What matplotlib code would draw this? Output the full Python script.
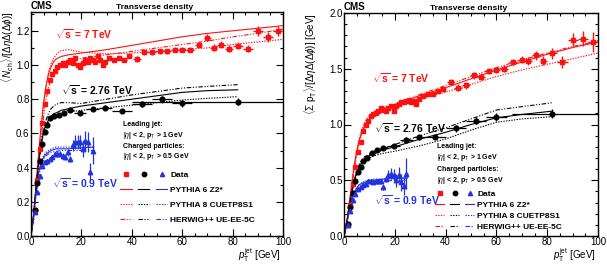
import matplotlib
matplotlib.use("Agg")
import matplotlib.pyplot as plt
from matplotlib.ticker import MultipleLocator
from matplotlib.lines import Line2D
from matplotlib.legend_handler import HandlerTuple

plt.rcParams['font.family'] = ['Liberation Sans', 'DejaVu Sans']
plt.rcParams['mathtext.fontset'] = 'custom'
plt.rcParams['mathtext.rm'] = 'Liberation Sans'
plt.rcParams['mathtext.it'] = 'Liberation Sans:italic'
plt.rcParams['mathtext.bf'] = 'Liberation Sans:bold'

RED = '#ff1010'
BLK = '#000000'
BLU = '#2233dd'

# ---------------- data: left panel (N_ch density) ----------------
n7_x = [1.5, 2.5, 3.5, 4.5, 5.5, 6.5, 7.5, 8.5, 9.5, 10.5, 11.5, 12.5, 13.5, 14.5, 15.5, 16.5, 17.5, 18.5, 19.5,
        20.5, 21.5, 22.5, 23.5, 24.5, 25.5, 26.5, 27.5, 28.5, 29.5, 31, 33, 35, 37, 39, 42, 45, 48, 51, 54, 57,
        60, 63, 66.5, 70, 72.5, 75.5, 78.5, 82, 86, 90, 94, 98]
n7_y = [0.15, 0.33, 0.51, 0.66, 0.77, 0.85, 0.91, 0.945, 0.965, 0.99, 1.0, 1.01, 1.0, 1.02, 1.03, 1.01, 1.04, 1.0, 0.99,
        1.01, 1.03, 1.02, 1.04, 1.03, 1.02, 1.05, 1.03, 1.0, 1.02, 1.04, 1.03, 1.04, 1.03, 1.05, 1.035, 1.075, 1.075, 1.08, 1.08, 1.09,
        1.09, 1.09, 1.118, 1.16, 1.10, 1.118, 1.095, 1.114, 1.095, 1.20, 1.163, 1.20]
n7_xe = [0.5] * 29 + [1.0] * 5 + [1.5] * 8 + [1.5, 1.5, 1.5, 1.5, 1.5, 2, 2, 2, 2, 2]
n7_ye = [0.005] * 20 + [0.01] * 14 + [0.015] * 8 + [0.015, 0.02, 0.02, 0.02, 0.02, 0.02, 0.02, 0.03, 0.03, 0.03]

n276_x = [1.5, 2.5, 3.5, 4.5, 5.5, 6.5, 7.5, 9, 11, 13, 15.5, 19.5, 24.5, 29.5, 36, 44, 52, 60, 82]
n276_y = [0.15, 0.31, 0.44, 0.54, 0.61, 0.65, 0.69, 0.70, 0.71, 0.72, 0.735, 0.72, 0.745, 0.75, 0.73, 0.77, 0.80, 0.775, 0.786]
n276_xl = [0.5, 0.5, 0.5, 0.5, 0.5, 0.5, 0.5, 1, 1, 1, 1.5, 2.5, 2.5, 2.5, 4, 4, 4, 4, 42]
n276_xr = [0.5, 0.5, 0.5, 0.5, 0.5, 0.5, 0.5, 1, 1, 1, 1.5, 2.5, 2.5, 2.5, 4, 4, 4, 4, 18]
n276_ye = [0.005, 0.005, 0.005, 0.005, 0.005, 0.005, 0.005, 0.006, 0.006, 0.008, 0.008, 0.01, 0.012, 0.015, 0.012, 0.018, 0.02, 0.02, 0.02]

n09_x = [1.5, 2.5, 3.5, 4.5, 5.5, 6.5, 7.5, 8.5, 9.5, 10.5, 11.5, 12.5, 13.5, 14.5, 15.5, 16.5, 17.5, 18.5, 19.5,
         20.5, 21.5, 22.5, 23.5, 24.5]
n09_y = [0.14, 0.26, 0.35, 0.41, 0.43, 0.44, 0.45, 0.46, 0.48, 0.48, 0.48, 0.47, 0.46, 0.49, 0.45, 0.53, 0.55, 0.55, 0.55,
         0.51, 0.555, 0.55, 0.375, 0.50]
n09_ye = [0.005, 0.006, 0.007, 0.008, 0.01, 0.01, 0.01, 0.012, 0.012, 0.015, 0.015, 0.015, 0.018, 0.02, 0.02, 0.03, 0.04, 0.04, 0.04,
          0.05, 0.06, 0.06, 0.05, 0.08]

# MC curves (left)
mc_x = [0, 1, 2, 3, 4, 5, 6, 7, 8, 9, 10, 12, 15, 20, 30, 40, 50, 60, 70, 80, 90, 100]
n7_p6 = [0, 0.12, 0.30, 0.48, 0.64, 0.78, 0.88, 0.95, 0.99, 1.02, 1.035, 1.05, 1.06, 1.07, 1.09, 1.115, 1.14, 1.165, 1.185, 1.20, 1.215, 1.23]
n7_p8 = [0, 0.11, 0.28, 0.46, 0.63, 0.77, 0.88, 0.96, 1.01, 1.04, 1.06, 1.085, 1.09, 1.075, 1.065, 1.07, 1.08, 1.09, 1.10, 1.12, 1.135, 1.15]
n7_hw = [0, 0.10, 0.26, 0.42, 0.57, 0.70, 0.80, 0.87, 0.92, 0.95, 0.97, 1.0, 1.02, 1.04, 1.06, 1.08, 1.10, 1.12, 1.14, 1.165, 1.185, 1.21]

mc276_x = [0, 1, 2, 3, 4, 5, 6, 7, 8, 9, 10, 12, 15, 20, 30, 40, 50, 60, 70, 82]
n276_p6 = [0, 0.12, 0.29, 0.43, 0.54, 0.61, 0.65, 0.68, 0.70, 0.715, 0.72, 0.735, 0.745, 0.76, 0.78, 0.80, 0.82, 0.84, 0.85, 0.855]
n276_p8 = [0, 0.11, 0.28, 0.42, 0.53, 0.60, 0.64, 0.67, 0.69, 0.70, 0.705, 0.715, 0.725, 0.735, 0.75, 0.765, 0.78, 0.795, 0.805, 0.815]
n276_hw = [0, 0.11, 0.27, 0.42, 0.54, 0.62, 0.68, 0.72, 0.745, 0.76, 0.77, 0.78, 0.78, 0.775, 0.80, 0.825, 0.845, 0.865, 0.875, 0.885]

mc09_x = [0, 1, 2, 3, 4, 5, 6, 7, 8, 10, 12, 15, 20, 25]
n09_p6 = [0, 0.11, 0.26, 0.37, 0.43, 0.46, 0.48, 0.49, 0.50, 0.51, 0.51, 0.51, 0.515, 0.52]
n09_p8 = [0, 0.10, 0.25, 0.36, 0.43, 0.47, 0.49, 0.50, 0.51, 0.52, 0.52, 0.52, 0.52, 0.52]
n09_hw = [0, 0.10, 0.24, 0.34, 0.41, 0.45, 0.47, 0.48, 0.49, 0.495, 0.50, 0.50, 0.50, 0.50]

# ---------------- data: right panel (sum pT density) ----------------
s7_x = n7_x
s7_y = [0.10, 0.28, 0.47, 0.62, 0.75, 0.84, 0.94, 1.0, 1.03, 1.08, 1.09, 1.10, 1.12, 1.15, 1.13, 1.12, 1.15, 1.17, 1.12,
        1.17, 1.18, 1.20, 1.20, 1.21, 1.22, 1.20, 1.21, 1.18, 1.23, 1.26, 1.27, 1.27, 1.30, 1.32, 1.38, 1.33, 1.35, 1.44, 1.43, 1.48,
        1.49, 1.50, 1.56, 1.58, 1.57, 1.62, 1.57, 1.64, 1.56, 1.76, 1.77, 1.74]
s7_ye = [0.005] * 20 + [0.012] * 14 + [0.03] * 8 + [0.03, 0.03, 0.035, 0.04, 0.04, 0.05, 0.05, 0.06, 0.07, 0.09]

s276_x = n276_x
s276_y = [0.11, 0.26, 0.39, 0.49, 0.57, 0.62, 0.67, 0.70, 0.74, 0.77, 0.79, 0.81, 0.865, 0.885, 0.89, 0.965, 1.035, 1.065, 1.097]
s276_xl = [0.5, 0.5, 0.5, 0.5, 0.5, 0.5, 0.5, 1, 1, 1, 1.5, 2.5, 2.5, 2.5, 4, 4, 4, 4, 16]
s276_xr = n276_xr
s276_ye = [0.005, 0.005, 0.005, 0.006, 0.006, 0.007, 0.008, 0.008, 0.01, 0.01, 0.012, 0.015, 0.02, 0.025, 0.02, 0.03, 0.03, 0.035, 0.04]

s09_x = n09_x
s09_y = [0.10, 0.22, 0.32, 0.38, 0.42, 0.44, 0.46, 0.47, 0.49, 0.49, 0.48, 0.49, 0.49, 0.49, 0.44, 0.51, 0.55, 0.56, 0.55,
         0.50, 0.55, 0.48, 0.45, 0.56]
s09_ye = [0.005, 0.006, 0.007, 0.008, 0.01, 0.01, 0.01, 0.012, 0.012, 0.015, 0.015, 0.018, 0.02, 0.02, 0.025, 0.03, 0.04, 0.05, 0.05,
          0.06, 0.07, 0.08, 0.08, 0.14]

s7_p6 = [0, 0.11, 0.28, 0.46, 0.63, 0.76, 0.86, 0.93, 0.98, 1.02, 1.05, 1.09, 1.13, 1.18, 1.26, 1.33, 1.41, 1.49, 1.56, 1.63, 1.69, 1.74]
s7_p8 = [0, 0.10, 0.27, 0.45, 0.62, 0.76, 0.87, 0.95, 1.01, 1.05, 1.08, 1.12, 1.15, 1.18, 1.23, 1.29, 1.36, 1.43, 1.49, 1.54, 1.59, 1.64]
s7_hw = [0, 0.10, 0.26, 0.43, 0.59, 0.72, 0.83, 0.91, 0.97, 1.02, 1.05, 1.09, 1.13, 1.18, 1.27, 1.35, 1.43, 1.51, 1.58, 1.64, 1.70, 1.75]

s276_p6 = [0, 0.11, 0.26, 0.39, 0.49, 0.57, 0.62, 0.66, 0.69, 0.71, 0.72, 0.74, 0.77, 0.80, 0.87, 0.93, 1.0, 1.06, 1.09, 1.12]
s276_p8 = [0, 0.10, 0.25, 0.38, 0.48, 0.56, 0.61, 0.65, 0.68, 0.69, 0.70, 0.72, 0.74, 0.76, 0.81, 0.87, 0.95, 1.02, 1.05, 1.07]
s276_hw = [0, 0.10, 0.25, 0.39, 0.50, 0.58, 0.64, 0.68, 0.71, 0.72, 0.73, 0.75, 0.78, 0.82, 0.90, 0.97, 1.05, 1.13, 1.16, 1.195]

s09_p6 = [0, 0.10, 0.23, 0.33, 0.39, 0.43, 0.46, 0.47, 0.48, 0.50, 0.50, 0.51, 0.515, 0.52]
s09_p8 = [0, 0.10, 0.22, 0.32, 0.39, 0.43, 0.46, 0.48, 0.49, 0.50, 0.51, 0.51, 0.52, 0.52]
s09_hw = [0, 0.09, 0.21, 0.31, 0.37, 0.41, 0.44, 0.46, 0.47, 0.48, 0.49, 0.49, 0.50, 0.50]

legend_labels = ['Data', 'PYTHIA 6 Z2*', 'PYTHIA 8 CUETP8S1', 'HERWIG++ UE-EE-5C']

fig = plt.figure(figsize=(6.07, 2.65), dpi=100)
axL = fig.add_axes([31 / 607, 1 - 236 / 265, 252 / 607, 224 / 265])
axR = fig.add_axes([344 / 607, 1 - 236 / 265, 254 / 607, 223 / 265])

LS_P8 = (0, (1.2, 1.2))
LS_HW = (0, (4, 1.5, 1, 1.5, 1, 1.5))


def draw_panel(ax, d7, d276, d09, mcs, ylim, ymaj, ymin_):
    (m7p6, m7p8, m7hw), (m2p6, m2p8, m2hw), (m9p6, m9p8, m9hw) = mcs
    for ys, c, xs in [(m7p6, RED, mc_x), (m2p6, BLK, mc276_x), (m9p6, BLU, mc09_x)]:
        ax.plot(xs, ys, color=c, lw=0.8, ls='-')
    for ys, c, xs in [(m7p8, RED, mc_x), (m2p8, BLK, mc276_x), (m9p8, BLU, mc09_x)]:
        ax.plot(xs, ys, color=c, lw=0.8, ls=LS_P8)
    for ys, c, xs in [(m7hw, RED, mc_x), (m2hw, BLK, mc276_x), (m9hw, BLU, mc09_x)]:
        ax.plot(xs, ys, color=c, lw=0.8, ls=LS_HW)
    x, y, xe, ye = d7
    ax.errorbar(x, y, xerr=xe, yerr=ye, fmt='s', ms=3.2, color=RED, ecolor=RED, elinewidth=1.0, capsize=0, zorder=5)
    x, y, xe, ye = d276
    ax.errorbar(x, y, xerr=xe, yerr=ye, fmt='o', ms=3.4, color=BLK, ecolor=BLK, elinewidth=0.9, capsize=0, zorder=5)
    x, y, xe, ye = d09
    ax.errorbar(x, y, xerr=xe, yerr=ye, fmt='^', ms=3.2, color=BLU, ecolor=BLU, elinewidth=0.9, capsize=0, zorder=5)

    ax.set_xlim(0, 100)
    ax.set_ylim(*ylim)
    ax.xaxis.set_major_locator(MultipleLocator(20))
    ax.xaxis.set_minor_locator(MultipleLocator(5))
    ax.yaxis.set_major_locator(MultipleLocator(ymaj))
    ax.yaxis.set_minor_locator(MultipleLocator(ymin_))
    ax.tick_params(which='both', direction='in', top=True, right=True, labelsize=7, width=0.8)
    ax.tick_params(which='major', length=5, pad=1.0)
    ax.tick_params(which='minor', length=2.5)
    for s in ax.spines.values():
        s.set_linewidth(1.0)
    right = ax.get_position().x1
    fig.text(right - 0.004, 0.002, r'$p_{\mathrm{T}}^{\mathrm{jet}}$ [GeV]', fontsize=7, ha='right', va='bottom')
    ax.text(0.0, 1.005, 'CMS', transform=ax.transAxes, fontsize=7, fontweight='bold', ha='left', va='bottom')
    ax.text(0.49, 1.005, 'Transverse density', transform=ax.transAxes, fontsize=6, fontweight='bold', ha='center', va='bottom')


def legend(ax, anchor, spacing, hlen):
    h_data = (Line2D([], [], ls='', marker='s', ms=3, color=RED),
              Line2D([], [], ls='', marker='o', ms=3.2, color=BLK),
              Line2D([], [], ls='', marker='^', ms=3, color=BLU))
    h_p6 = tuple(Line2D([], [], ls='-', lw=0.8, color=c) for c in (RED, BLK, BLU))
    h_p8 = tuple(Line2D([], [], ls=LS_P8, lw=0.8, color=c) for c in (RED, BLK, BLU))
    h_hw = tuple(Line2D([], [], ls=LS_HW, lw=0.8, color=c) for c in (RED, BLK, BLU))
    leg = ax.legend([h_data, h_p6, h_p8, h_hw], legend_labels,
                    handler_map={tuple: HandlerTuple(ndivide=None, pad=0.8)},
                    loc='upper left', bbox_to_anchor=anchor, frameon=False,
                    prop={'size': 6, 'weight': 'bold'}, handlelength=hlen,
                    labelspacing=spacing, handletextpad=0.4, borderaxespad=0, borderpad=0)
    return leg


# Left panel
draw_panel(axL, (n7_x, n7_y, n7_xe, n7_ye), (n276_x, n276_y, [n276_xl, n276_xr], n276_ye),
           (n09_x, n09_y, 0.5, n09_ye),
           ((n7_p6, n7_p8, n7_hw), (n276_p6, n276_p8, n276_hw), (n09_p6, n09_p8, n09_hw)),
           (0, 1.31), 0.2, 0.1)
axL.set_ylabel(r'$\langle\, N_{\mathrm{ch}} \rangle/[\Delta\eta\Delta(\Delta\phi)]$', fontsize=7, loc='top')
axL.yaxis.set_label_coords(-0.06, 1.0)
axL.text(9.5, 1.18, r'$\sqrt{\mathbf{s}}$ = 7 TeV', color=RED, fontsize=7.5, fontweight='bold', va='center')
axL.text(12, 0.855, r'$\sqrt{\mathbf{s}}$ = 2.76 TeV', color=BLK, fontsize=7.5, fontweight='bold', va='center')
axL.text(8.5, 0.31, r'$\sqrt{\mathbf{s}}$ = 0.9 TeV', color=BLU, fontsize=7.5, fontweight='bold', va='center')
axL.text(36.5, 0.65, 'Leading jet:', fontsize=5, fontweight='bold', va='center')
axL.text(36.5, 0.59, r'|$\eta$| < 2, p$_{\mathrm{T}}$ > 1 GeV', fontsize=5, fontweight='bold', va='center')
axL.text(36.5, 0.523, 'Charged particles:', fontsize=5, fontweight='bold', va='center')
axL.text(36.5, 0.465, r'|$\eta$| < 2, p$_{\mathrm{T}}$ > 0.5 GeV', fontsize=5, fontweight='bold', va='center')
legend(axL, (0.355, 0.29), 0.85, 5.6)

# Right panel
draw_panel(axR, (s7_x, s7_y, n7_xe, s7_ye), (s276_x, s276_y, [s276_xl, s276_xr], s276_ye),
           (s09_x, s09_y, 0.5, s09_ye),
           ((s7_p6, s7_p8, s7_hw), (s276_p6, s276_p8, s276_hw), (s09_p6, s09_p8, s09_hw)),
           (0, 2.0), 0.5, 0.1)
axR.set_ylabel(r'$\langle\Sigma$ p$_{\mathrm{T}}\rangle/[\Delta\eta\Delta(\Delta\phi)]$ [GeV]', fontsize=7, loc='top')
axR.yaxis.set_label_coords(-0.1, 1.0)
axR.text(11, 1.42, r'$\sqrt{\mathbf{s}}$ = 7 TeV', color=RED, fontsize=7.5, fontweight='bold', va='center')
axR.text(12, 0.97, r'$\sqrt{\mathbf{s}}$ = 2.76 TeV', color=BLK, fontsize=7.5, fontweight='bold', va='center')
axR.text(12, 0.325, r'$\sqrt{\mathbf{s}}$ = 0.9 TeV', color=BLU, fontsize=7.5, fontweight='bold', va='center')
axR.text(36.5, 0.80, 'Leading jet:', fontsize=5, fontweight='bold', va='center')
axR.text(36.5, 0.70, r'|$\eta$| < 2, p$_{\mathrm{T}}$ > 1 GeV', fontsize=5, fontweight='bold', va='center')
axR.text(36.5, 0.595, 'Charged particles:', fontsize=5, fontweight='bold', va='center')
axR.text(36.5, 0.495, r'|$\eta$| < 2, p$_{\mathrm{T}}$ > 0.5 GeV', fontsize=5, fontweight='bold', va='center')
legend(axR, (0.36, 0.205), 0.38, 4.6)

fig.savefig('out.png', dpi=100)
